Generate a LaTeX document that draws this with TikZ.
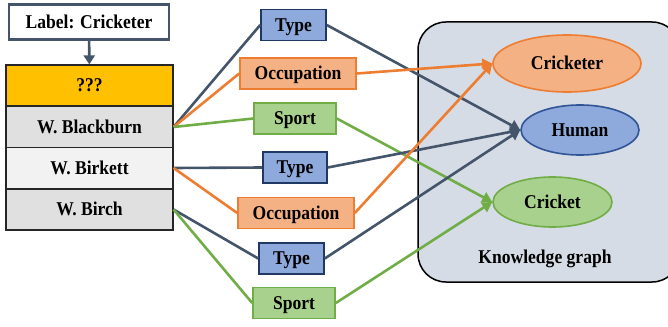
\documentclass[tikz,border=0pt]{standalone}
\usepackage{fontspec}
\setmainfont{Liberation Serif}
\newfontfamily\lblfont{Liberation Serif}[FakeStretch=0.9]
\usetikzlibrary{arrows.meta,shapes.geometric}
\definecolor{slate}{HTML}{44546A}
\definecolor{orng}{HTML}{ED7D31}
\definecolor{orngfill}{HTML}{F4B183}
\definecolor{grn}{HTML}{70AD47}
\definecolor{grnfill}{HTML}{A9D18E}
\definecolor{bluefill}{HTML}{8EA9DB}
\definecolor{bluedraw}{HTML}{203864}
\definecolor{humandraw}{HTML}{2F5597}
\definecolor{kgfill}{HTML}{D6DCE5}
\definecolor{gold}{HTML}{FFC000}
\definecolor{rowA}{HTML}{E0E0E0}
\definecolor{rowB}{HTML}{F2F2F2}
\tikzset{
  txt/.style={font=\lblfont\fontsize{19.5}{21}\selectfont\bfseries, text=black, text height=12.9pt, text depth=0pt},
  row/.style={txt, draw=black!85, line width=1.2pt, minimum width=167pt, minimum height=41pt, inner sep=0pt},
  typebox/.style={txt, draw=bluedraw, fill=bluefill, line width=1.6pt, minimum height=31pt, inner sep=0pt},
  occbox/.style={txt, draw=orng, fill=orngfill, line width=1.6pt, minimum height=31pt, inner sep=0pt},
  sportbox/.style={txt, draw=grn, fill=grnfill, line width=1.6pt, minimum height=31pt, inner sep=0pt},
  ell/.style={txt, ellipse, line width=1.6pt, inner sep=0pt},
  conn/.style={line width=2.6pt},
  tip/.style={-{Triangle[length=10pt,width=11pt]}},
}
\begin{document}
\begin{tikzpicture}[x=1pt,y=-1pt]
\useasboundingbox (0,0) rectangle (668,326);
\clip (0,0) rectangle (668,326);
% knowledge graph box
\node[draw=black, fill=kgfill, line width=1.5pt, rounded corners=28pt, minimum width=262pt, minimum height=260pt, inner sep=0pt] (kg) at (549,152) {};
\node[txt] (kglabel) at (545,257) {Knowledge graph};
\node[ell, draw=orng, fill=orngfill, minimum width=148pt, minimum height=57pt] (crk) at (567,63.5) {Cricketer};
\node[ell, draw=humandraw, fill=bluefill, minimum width=118pt, minimum height=50pt] (hum) at (580,130) {Human};
\node[ell, draw=grn, fill=grnfill, minimum width=119pt, minimum height=50pt] (crt) at (552.5,202) {Cricket};
% label and table
\node[txt, draw=slate, fill=white, line width=2.8pt, minimum width=160pt, minimum height=35pt, inner sep=0pt] (lab) at (89,22) {Label: Cricketer};
\node[row, fill=gold] (q) at (89.5,85.5) {???};
\node[row, fill=rowA] (r1) at (89.5,127) {W. Blackburn};
\node[row, fill=rowB] (r2) at (89.5,168) {W. Birkett};
\node[row, fill=rowA] (r3) at (89.5,209.5) {W. Birch};
\draw[conn, slate, -{Triangle[length=9pt,width=11pt]}] (lab) -- (q);
% relation boxes
\node[typebox, minimum width=65pt] (t1) at (293.5,25) {Type};
\node[occbox, minimum width=116pt] (o1) at (298,73.5) {Occupation};
\node[sportbox, minimum width=82pt] (s1) at (295,118.5) {Sport};
\node[typebox, minimum width=64pt] (t2) at (295,167.5) {Type};
\node[occbox, minimum width=116pt] (o2) at (296,213) {Occupation};
\node[typebox, minimum width=65pt] (t3) at (291.5,258.5) {Type};
\node[sportbox, minimum width=82pt] (s2) at (294,303) {Sport};
% left connectors
\draw[conn, slate] (r1.east) -- (t1.west);
\draw[conn, orng] (r1.east) -- (o1.west);
\draw[conn, grn] (r1.east) -- (s1.west);
\draw[conn, slate] (r2.east) -- (t2.west);
\draw[conn, orng] (r2.east) -- (o2.west);
\draw[conn, slate] (r3.east) -- (t3.west);
\draw[conn, grn] (r3.east) -- (s2.west);
% right connectors
\draw[conn, tip, slate] (t1.east) -- (hum.west);
\draw[conn, tip, orng] (o1.east) -- (crk.west);
\draw[conn, tip, grn] (s1.east) -- (crt.west);
\draw[conn, tip, slate] (t2.east) -- (hum.west);
\draw[conn, tip, orng] (o2.east) -- (crk.west);
\draw[conn, tip, slate] (t3.east) -- (hum.west);
\draw[conn, tip, grn] (s2.east) -- (crt.west);
\end{tikzpicture}
\end{document}
